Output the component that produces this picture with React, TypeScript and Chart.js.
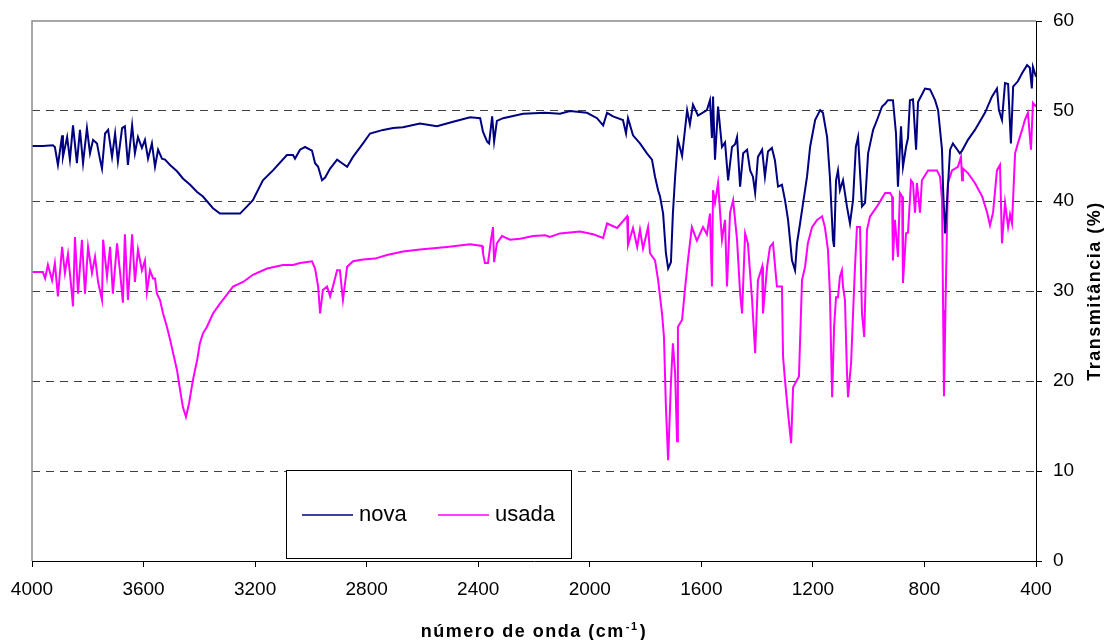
import React, { useEffect, useRef } from 'react';
import { Chart, registerables } from 'chart.js';

Chart.register(...registerables);

// [wavenumber (cm-1), transmittance (%)]
const novaSpectrum: [number, number][] = [
  [4000, 46.1], [3961, 46.1], [3925, 46.2], [3918, 46.0], [3907, 44.0], [3892, 47.3], [3889, 44.9], [3874, 47.1],
  [3864, 44.6], [3853, 48.4], [3839, 44.2], [3828, 47.9], [3817, 44.2], [3803, 48.1], [3792, 45.3], [3781, 46.8],
  [3767, 46.4], [3756, 44.6], [3749, 43.6], [3738, 47.5], [3727, 47.9], [3713, 44.9], [3702, 47.5], [3692, 44.4],
  [3677, 48.1], [3667, 48.3], [3656, 44.0], [3641, 48.4], [3631, 45.3], [3620, 47.1], [3606, 45.9], [3595, 46.8],
  [3584, 44.7], [3570, 46.4], [3559, 43.8], [3548, 45.7], [3534, 44.7], [3523, 44.6], [3505, 44.0], [3480, 43.3],
  [3459, 42.5], [3433, 41.8], [3408, 41.0], [3387, 40.5], [3351, 39.2], [3326, 38.6], [3254, 38.6], [3229, 39.4],
  [3208, 40.1], [3172, 42.3], [3136, 43.4], [3086, 45.1], [3064, 45.1], [3057, 44.7], [3039, 45.7], [3021, 46.0],
  [2996, 45.6], [2985, 44.2], [2974, 43.8], [2960, 42.3], [2949, 42.6], [2931, 43.6], [2906, 44.6], [2888, 44.2],
  [2870, 43.8], [2849, 44.9], [2813, 46.4], [2788, 47.5], [2741, 47.9], [2705, 48.1], [2670, 48.2], [2609, 48.6],
  [2548, 48.3], [2490, 48.8], [2429, 49.3], [2393, 49.2], [2383, 47.7], [2368, 46.6], [2361, 46.4], [2350, 49.4],
  [2343, 46.6], [2333, 48.9], [2311, 49.2], [2239, 49.7], [2160, 49.8], [2107, 49.7], [2071, 50.0], [2010, 49.8],
  [1974, 49.2], [1952, 48.4], [1938, 49.8], [1917, 49.4], [1881, 49.0], [1870, 47.5], [1863, 49.2], [1845, 47.3],
  [1820, 46.4], [1795, 45.3], [1777, 44.6], [1766, 42.7], [1755, 41.2], [1748, 40.5], [1737, 38.6], [1727, 34.2],
  [1719, 32.5], [1709, 33.2], [1702, 38.6], [1694, 42.7], [1684, 46.8], [1669, 45.0], [1651, 50.1], [1641, 48.5],
  [1630, 50.7], [1612, 49.5], [1580, 50.1], [1569, 51.2], [1562, 47.0], [1558, 51.6], [1551, 44.6], [1540, 50.5],
  [1526, 46.0], [1515, 46.5], [1504, 42.3], [1490, 46.0], [1479, 46.3], [1472, 47.1], [1461, 41.6], [1450, 45.3],
  [1436, 45.7], [1425, 43.4], [1415, 42.7], [1407, 40.9], [1397, 44.9], [1382, 45.7], [1372, 42.7], [1361, 45.5],
  [1347, 45.9], [1336, 44.5], [1325, 41.6], [1311, 41.8], [1300, 40.1], [1289, 37.9], [1275, 33.4], [1264, 32.3],
  [1257, 35.3], [1246, 37.5], [1235, 39.8], [1221, 42.7], [1210, 46.0], [1192, 49.0], [1174, 50.1], [1164, 49.8],
  [1149, 47.1], [1139, 42.7], [1128, 35.7], [1124, 34.9], [1117, 42.3], [1110, 43.4], [1103, 41.2], [1092, 42.3],
  [1078, 39.4], [1067, 37.5], [1056, 40.1], [1046, 46.0], [1038, 47.1], [1024, 39.4], [1013, 39.8], [1002, 45.3],
  [984, 47.9], [970, 49.0], [952, 50.5], [941, 50.8], [931, 51.2], [913, 51.2], [902, 47.5], [895, 41.6],
  [884, 48.3], [877, 43.8], [866, 46.0], [859, 47.0], [852, 51.2], [841, 51.3], [830, 45.7], [823, 51.0],
  [798, 52.5], [780, 52.4], [762, 51.2], [751, 50.1], [737, 45.7], [733, 41.2], [726, 36.4], [719, 40.0],
  [708, 45.7], [698, 46.4], [673, 45.3], [665, 45.6], [644, 46.8], [619, 47.9], [583, 49.8], [558, 51.6],
  [540, 52.5], [533, 50.1], [522, 49.0], [511, 53.1], [500, 53.0], [490, 46.4], [482, 52.7], [465, 53.3],
  [450, 54.2], [432, 55.1], [422, 54.8], [415, 52.5], [411, 54.9], [400, 53.8],
];

const usadaSpectrum: [number, number][] = [
  [4000, 32.1], [3961, 32.1], [3953, 31.4], [3943, 32.9], [3928, 31.2], [3918, 33.1], [3907, 29.4], [3892, 34.9],
  [3882, 32.0], [3871, 34.1], [3857, 29.7], [3853, 28.3], [3846, 36.0], [3835, 29.7], [3821, 35.7], [3810, 29.7],
  [3799, 34.9], [3785, 32.0], [3774, 33.8], [3763, 31.0], [3749, 29.0], [3745, 35.7], [3731, 31.6], [3720, 34.9],
  [3710, 29.7], [3695, 35.3], [3684, 32.0], [3674, 28.7], [3667, 36.3], [3656, 29.0], [3641, 36.3], [3631, 31.0],
  [3620, 34.6], [3606, 32.3], [3595, 33.4], [3588, 29.9], [3577, 32.3], [3566, 31.4], [3559, 31.4], [3552, 29.7],
  [3541, 29.0], [3530, 27.5], [3516, 26.0], [3505, 24.6], [3494, 23.1], [3480, 21.2], [3469, 19.0], [3459, 17.1],
  [3448, 16.0], [3437, 17.5], [3423, 20.1], [3408, 22.3], [3398, 24.2], [3387, 25.3], [3373, 26.0], [3351, 27.5],
  [3326, 28.6], [3301, 29.6], [3279, 30.5], [3243, 31.0], [3208, 31.8], [3157, 32.5], [3100, 32.9], [3064, 32.9],
  [3039, 33.1], [2996, 33.3], [2985, 32.5], [2974, 30.5], [2967, 27.5], [2957, 30.1], [2942, 30.5], [2931, 29.4],
  [2921, 30.5], [2906, 32.3], [2896, 32.3], [2885, 29.0], [2870, 32.7], [2849, 33.3], [2813, 33.5], [2770, 33.6],
  [2727, 34.0], [2670, 34.4], [2609, 34.6], [2512, 34.9], [2429, 35.2], [2386, 35.0], [2383, 34.2], [2376, 33.1],
  [2365, 33.1], [2354, 35.7], [2347, 37.1], [2343, 33.2], [2333, 35.3], [2315, 36.1], [2286, 35.7], [2250, 35.8],
  [2203, 36.1], [2160, 36.2], [2143, 36.0], [2107, 36.4], [2035, 36.6], [1988, 36.3], [1952, 35.9], [1938, 37.5],
  [1902, 37.0], [1866, 38.3], [1863, 35.1], [1845, 37.0], [1830, 34.9], [1820, 36.8], [1809, 34.7], [1791, 37.1],
  [1784, 34.2], [1766, 33.4], [1755, 31.2], [1741, 27.5], [1734, 24.9], [1727, 17.1], [1719, 11.2], [1709, 19.8],
  [1702, 24.2], [1694, 20.9], [1687, 13.3], [1684, 26.0], [1669, 26.8], [1659, 30.1], [1648, 33.4], [1634, 37.1],
  [1616, 35.6], [1594, 37.1], [1580, 36.3], [1569, 38.6], [1562, 30.5], [1558, 41.2], [1551, 39.8], [1540, 42.0],
  [1526, 35.7], [1515, 37.9], [1508, 30.5], [1497, 38.7], [1486, 40.1], [1472, 35.7], [1461, 29.8], [1454, 27.5],
  [1443, 36.4], [1433, 35.3], [1418, 29.0], [1407, 23.1], [1397, 31.2], [1382, 32.7], [1379, 27.5], [1364, 32.7],
  [1354, 34.9], [1343, 35.3], [1329, 30.5], [1311, 30.5], [1307, 22.7], [1300, 20.1], [1289, 16.4], [1278, 13.1],
  [1271, 19.3], [1257, 20.1], [1250, 20.5], [1239, 31.2], [1228, 32.7], [1218, 35.3], [1203, 37.1], [1185, 37.9],
  [1167, 38.3], [1157, 37.1], [1146, 34.6], [1139, 29.8], [1135, 23.8], [1131, 18.2], [1124, 26.0], [1117, 29.3],
  [1110, 29.3], [1103, 31.6], [1096, 32.3], [1092, 30.5], [1085, 29.0], [1078, 21.2], [1074, 18.2], [1063, 22.0],
  [1056, 27.5], [1049, 32.7], [1042, 37.1], [1031, 37.1], [1024, 27.5], [1016, 24.9], [1006, 36.8], [995, 38.3],
  [970, 39.4], [941, 40.9], [923, 40.9], [916, 40.5], [913, 33.4], [906, 37.9], [895, 33.8], [888, 40.9],
  [880, 40.5], [877, 30.9], [866, 36.4], [859, 36.5], [848, 42.3], [841, 42.0], [834, 38.7], [827, 42.0],
  [816, 38.7], [809, 42.3], [787, 43.4], [755, 43.4], [744, 42.7], [737, 40.1], [733, 27.9], [730, 18.3],
  [723, 30.9], [716, 42.0], [701, 43.4], [680, 43.8], [669, 44.9], [665, 42.3], [662, 43.6], [644, 43.1],
  [619, 42.0], [593, 40.5], [575, 38.7], [565, 37.3], [554, 38.7], [540, 43.4], [529, 44.0], [522, 35.3],
  [511, 39.8], [500, 37.1], [493, 38.5], [486, 37.5], [475, 45.3], [465, 46.4], [450, 47.9], [440, 49.0],
  [429, 49.8], [418, 45.7], [411, 50.9], [400, 50.5],
];

const seriesLabels = ['nova', 'usada'];
const seriesColors = ['#000080', '#FF00FF'];
const xAxisTitle = 'número de onda (cm';
const xAxisTitleSup = '-1';
const xAxisTitleEnd = ')';
const yAxisTitle = 'Transmitância (%)';
const xRange = [400, 4000];
const xStep = 400;
const yRange = [0, 60];
const yStep = 10;

const FONT = "Arial, 'Liberation Sans', Helvetica, sans-serif";

const annotate = {
  id: 'annotate',
  afterDraw(chart: any) {
    const ctx: CanvasRenderingContext2D = chart.ctx;
    const { left, top, right, bottom } = chart.chartArea;
    ctx.save();
    // plot frame (gray top and left)
    ctx.strokeStyle = '#8a8a8a';
    ctx.lineWidth = 1.5;
    ctx.setLineDash([]);
    ctx.beginPath();
    ctx.moveTo(left, bottom);
    ctx.lineTo(left, top);
    ctx.lineTo(right, top);
    ctx.stroke();

    // legend box
    const bx = left + 254;
    const by = top + 449;
    const bw = 285;
    const bh = 88;
    ctx.fillStyle = '#ffffff';
    ctx.fillRect(bx, by, bw, bh);
    ctx.strokeStyle = '#000000';
    ctx.lineWidth = 1;
    ctx.strokeRect(bx + 0.5, by + 0.5, bw, bh);
    const ly = by + 45;
    const items = chart.data.datasets;
    const offsets = [16, 152];
    items.forEach((ds: any, i: number) => {
      const sx = bx + offsets[i];
      ctx.strokeStyle = ds.borderColor;
      ctx.lineWidth = 1.5;
      ctx.beginPath();
      ctx.moveTo(sx, ly);
      ctx.lineTo(sx + 51, ly);
      ctx.stroke();
      ctx.fillStyle = '#000';
      ctx.font = `22px ${FONT}`;
      ctx.textBaseline = 'middle';
      ctx.textAlign = 'left';
      ctx.fillText(ds.label, sx + 57, ly);
    });

    // x axis title with superscript
    (ctx as any).letterSpacing = '1.5px';
    ctx.fillStyle = '#000';
    ctx.textBaseline = 'alphabetic';
    ctx.textAlign = 'left';
    const mainFont = `bold 18px ${FONT}`;
    const supFont = `bold 11px ${FONT}`;
    ctx.font = mainFont;
    const w1 = ctx.measureText(xAxisTitle).width;
    const w3 = ctx.measureText(xAxisTitleEnd).width;
    ctx.font = supFont;
    const w2 = ctx.measureText(xAxisTitleSup).width;
    const total = w1 + w2 + w3 + 2;
    let tx = (left + right) / 2 - total / 2;
    const baseY = 637;
    ctx.font = mainFont;
    ctx.fillText(xAxisTitle, tx, baseY);
    tx += w1 + 1;
    ctx.font = supFont;
    ctx.fillText(xAxisTitleSup, tx, baseY - 7);
    tx += w2 + 1;
    ctx.font = mainFont;
    ctx.fillText(xAxisTitleEnd, tx, baseY);

    // y axis title rotated
    ctx.translate(1095, (top + bottom) / 2);
    ctx.rotate(-Math.PI / 2);
    ctx.font = mainFont;
    ctx.textAlign = 'center';
    ctx.textBaseline = 'middle';
    ctx.fillText(yAxisTitle, 0, 0);
    ctx.restore();
  },
};

export default function App() {
  const ref = useRef<HTMLCanvasElement | null>(null);
  useEffect(() => {
    if (!ref.current) return;
    const spectra = [novaSpectrum, usadaSpectrum];
    const chart = new Chart(ref.current, {
      type: 'line',
      data: {
        datasets: spectra.map((s, i) => ({
          label: seriesLabels[i],
          data: s.map(([x, y]) => ({ x, y })),
          borderColor: seriesColors[i],
          backgroundColor: seriesColors[i],
          borderWidth: 2,
          pointRadius: 0,
          tension: 0,
          fill: false,
        })),
      },
      options: {
        responsive: false,
        animation: false,
        events: [],
        layout: { padding: { left: 32, top: 21, right: 0, bottom: 0 } },
        plugins: {
          legend: { display: false },
          tooltip: { enabled: false },
          title: { display: false },
        },
        scales: {
          x: {
            type: 'linear',
            reverse: true,
            min: xRange[0],
            max: xRange[1],
            ticks: {
              stepSize: xStep,
              color: '#000',
              font: { family: FONT, size: 19, lineHeight: 1.6 },
              padding: 8,
              maxRotation: 0,
              callback: (v: any) => String(v),
            },
            grid: {
              drawOnChartArea: false,
              drawTicks: true,
              tickLength: 6,
              color: '#000',
              tickColor: '#000',
            },
            border: { display: true, color: '#000', width: 1 },
            afterFit: (scale: any) => {
              scale.height = 79;
            },
          },
          y: {
            type: 'linear',
            position: 'right',
            min: yRange[0],
            max: yRange[1],
            ticks: {
              stepSize: yStep,
              color: '#000',
              font: { family: FONT, size: 19, lineHeight: 1.0 },
              padding: 11,
              callback: (v: any) => String(v),
            },
            grid: {
              drawTicks: true,
              tickLength: 6,
              color: (c: any) =>
                c.tick && (c.tick.value === yRange[0] || c.tick.value === yRange[1]) ? 'rgba(0,0,0,0)' : '#404040',
              tickColor: '#000',
              lineWidth: 1,
              tickBorderDash: [],
            } as any,
            border: { display: true, color: '#000', width: 1, dash: [8, 6] } as any,
            afterFit: (scale: any) => {
              scale.width = 71;
            },
          },
        },
      } as any,
      plugins: [annotate],
    });
    return () => chart.destroy();
  }, []);
  return (
    <div style={{ position: 'fixed', left: 0, top: 0, width: 1107, height: 640, background: '#fff' }}>
      <canvas ref={ref} width={1107} height={640} style={{ display: 'block' }} />
    </div>
  );
}
